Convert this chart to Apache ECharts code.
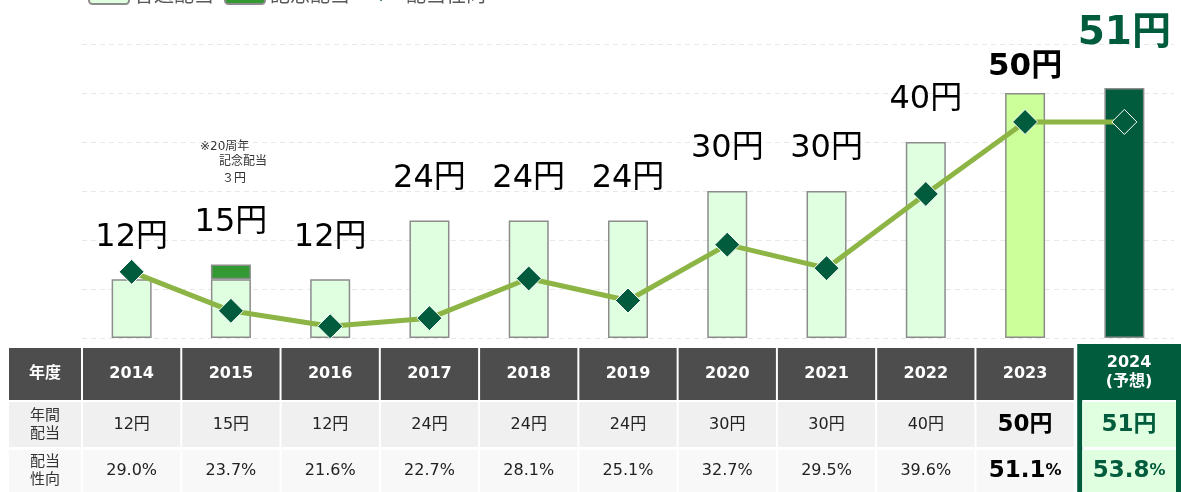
<!DOCTYPE html>
<html>
<head>
<meta charset="utf-8">
<script src="https://cdn.jsdelivr.net/npm/echarts@6/dist/echarts.min.js"></script>
<style>
  html, body { margin: 0; padding: 0; background: #fff; }
  #main { width: 1181px; height: 492px; }
</style>
</head>
<body>
<div id="main"></div>
<script>
// data
var years = ['2014', '2015', '2016', '2017', '2018', '2019', '2020', '2021', '2022', '2023', '2024'];
var yearHeads = ['2014', '2015', '2016', '2017', '2018', '2019', '2020', '2021', '2022', '2023', '2024\n(予想)'];
var ordinary = [12, 12, 12, 24, 24, 24, 30, 30, 40, 50, 51];
var commemorative = [0, 3, 0, 0, 0, 0, 0, 0, 0, 0, 0];
var payoutText = ['29.0', '23.7', '21.6', '22.7', '28.1', '25.1', '32.7', '29.5', '39.6', '51.1', '53.8'];
// payout ratio line as it is drawn in the reference (last two points sit level)
var payoutLine = [29.0, 23.7, 21.6, 22.7, 28.1, 25.1, 32.7, 29.5, 39.6, 49.4, 49.4];
var dividendTicks = [0, 60, 10];
var payoutAxis = [20, 60];

var FONT = "'DejaVu Sans', 'Noto Sans CJK JP', sans-serif";
var DARK = '#005c3c';

var myChart = echarts.init(document.getElementById('main'));

function total(i) { return ordinary[i] + commemorative[i]; }

// label style per year for the big "xx円" labels
function bigLabel(i) {
  var lab = {
    show: true, position: 'top', distance: 26,
    formatter: total(i) + '円',
    fontFamily: FONT, fontSize: 32, color: '#000'
  };
  if (i === 9) { lab.fontWeight = 'bold'; lab.fontSize = 31; lab.distance = 11; }
  if (i === 10) { lab.fontWeight = 'bold'; lab.fontSize = 39; lab.distance = 35; lab.color = DARK; }
  return lab;
}

var ordinaryData = ordinary.map(function (v, i) {
  var item = { value: v, label: commemorative[i] ? { show: false } : bigLabel(i) };
  if (i === 9) item.itemStyle = { color: '#ccff99' };
  if (i === 10) item.itemStyle = { color: DARK };
  return item;
});
var commemData = commemorative.map(function (v, i) {
  return v ? { value: v, label: bigLabel(i) } : '-';
});

// table under the chart, one column per category
function renderTable(params, api) {
  var i = api.value(0);
  var p = api.coord([i, 0]);
  var w = api.size([1, 0])[0];
  var x0 = p[0] - w / 2;
  var base = p[1];
  var H = api.getHeight();
  var kids = [];
  var last = i === years.length - 1;
  var big = i >= 9;

  function txt(x, y, text, color, size, weight, rich) {
    var s = {
      x: x, y: y, text: text, fill: color, fontFamily: FONT,
      fontSize: size, fontWeight: weight || 'normal',
      align: 'center', verticalAlign: 'middle', lineHeight: size + 3
    };
    if (rich) s.rich = rich;
    return { type: 'text', style: s };
  }

  var valColor = last ? DARK : (big ? '#000' : '#222');
  var valSize = big ? 23 : 16;
  var valWeight = big ? 'bold' : 'normal';
  var pctRich = {
    a: { fontFamily: FONT, fontSize: valSize, fontWeight: valWeight, fill: valColor },
    b: { fontFamily: FONT, fontSize: big ? 16 : valSize, fontWeight: valWeight, fill: valColor }
  };

  if (!last) {
    var cx = x0 + 1, cw = w - 2;
    kids.push({ type: 'rect', shape: { x: cx, y: base + 10, width: cw, height: 52 }, style: { fill: '#4d4d4d' } });
    kids.push({ type: 'rect', shape: { x: cx, y: base + 64, width: cw, height: 45 }, style: { fill: '#f0f0f0' } });
    kids.push({ type: 'rect', shape: { x: cx, y: base + 112, width: cw, height: H - base - 112 }, style: { fill: '#f8f8f8' } });
  } else {
    var lx = x0 + 2.5, rx = api.getWidth();
    kids.push({ type: 'rect', shape: { x: lx, y: base + 6, width: rx - lx, height: H - base - 6 }, style: { fill: DARK } });
    kids.push({ type: 'rect', shape: { x: lx + 5, y: base + 62, width: rx - lx - 10, height: H - base - 62 }, style: { fill: '#fff' } });
    kids.push({ type: 'rect', shape: { x: lx + 5, y: base + 64, width: rx - lx - 10, height: 45 }, style: { fill: '#e0ffe0' } });
    kids.push({ type: 'rect', shape: { x: lx + 5, y: base + 112, width: rx - lx - 10, height: H - base - 112 }, style: { fill: '#e0ffe0' } });
  }
  var tx = last ? (x0 + 2.5 + api.getWidth()) / 2 : p[0];
  kids.push(txt(tx, base + (last ? 34 : 36), yearHeads[i], '#fff', 16, 'bold'));
  kids.push(txt(tx, base + 87, '{a|' + total(i) + '円}', valColor, valSize, valWeight, pctRich));
  kids.push(txt(tx, base + 133, '{a|' + payoutText[i] + '}{b|%}', valColor, valSize, valWeight, pctRich));

  // row headers left of the first column
  if (i === 0) {
    var hx = 9, hw = x0 - 1 - hx, hc = hx + hw / 2;
    kids.push({ type: 'rect', shape: { x: hx, y: base + 10, width: hw, height: 52 }, style: { fill: '#4d4d4d' } });
    kids.push({ type: 'rect', shape: { x: hx, y: base + 64, width: hw, height: 45 }, style: { fill: '#f0f0f0' } });
    kids.push({ type: 'rect', shape: { x: hx, y: base + 112, width: hw, height: H - base - 112 }, style: { fill: '#f8f8f8' } });
    kids.push(txt(hc, base + 36, '年度', '#fff', 16, 'bold'));
    kids.push(txt(hc, base + 87, '年間\n配当', '#333', 15));
    kids.push(txt(hc, base + 133, '配当\n性向', '#333', 15));
  }
  return { type: 'group', children: kids };
}

var option = {
  animation: false,
  backgroundColor: '#fff',
  textStyle: { fontFamily: FONT },
  legend: {
    data: ['普通配当', '記念配当', '配当性向'],
    left: 83, top: -18,
    itemWidth: 40, itemHeight: 14, itemGap: 10,
    textStyle: { fontFamily: FONT, fontSize: 20, color: '#595959' }
  },
  grid: { left: 82, right: 7, top: 44, bottom: 154 },
  xAxis: {
    type: 'category', data: years,
    axisLine: { show: false }, axisTick: { show: false }, axisLabel: { show: false }
  },
  yAxis: [
    {
      type: 'value', min: dividendTicks[0], max: dividendTicks[1], interval: dividendTicks[2],
      axisLabel: { show: false }, axisLine: { show: false }, axisTick: { show: false },
      splitLine: { lineStyle: { color: '#e8e8e8', type: [5, 4], width: 1 } }
    },
    {
      type: 'value', min: payoutAxis[0], max: payoutAxis[1],
      show: false, splitLine: { show: false }
    }
  ],
  graphic: [
    { type: 'text', left: 200, top: 141, style: { text: '※20周年', fontFamily: FONT, fontSize: 12, fill: '#333' } },
    { type: 'text', left: 219, top: 156, style: { text: '記念配当', fontFamily: FONT, fontSize: 12, fill: '#333' } },
    { type: 'text', left: 222, top: 173, style: { text: '３円', fontFamily: FONT, fontSize: 12, fill: '#333' } }
  ],
  series: [
    {
      name: '普通配当', type: 'bar', stack: 'div', barWidth: 40,
      itemStyle: { color: '#e0ffe0', borderColor: '#8c8c8c', borderWidth: 1.5 },
      data: ordinaryData
    },
    {
      name: '記念配当', type: 'bar', stack: 'div', barWidth: 40,
      itemStyle: { color: '#339933', borderColor: '#8c8c8c', borderWidth: 1.5 },
      data: commemData
    },
    {
      name: '配当性向', type: 'line', yAxisIndex: 1, z: 5,
      symbol: 'diamond', symbolSize: 25,
      lineStyle: { color: '#8cb545', width: 5 },
      itemStyle: { color: DARK, borderColor: '#fff', borderWidth: 1 },
      data: payoutLine
    },
    {
      name: 'table', type: 'custom', clip: false, silent: true,
      renderItem: renderTable,
      data: years.map(function (y, i) { return [i, 0]; })
    }
  ]
};

myChart.setOption(option);
</script>
</body>
</html>
